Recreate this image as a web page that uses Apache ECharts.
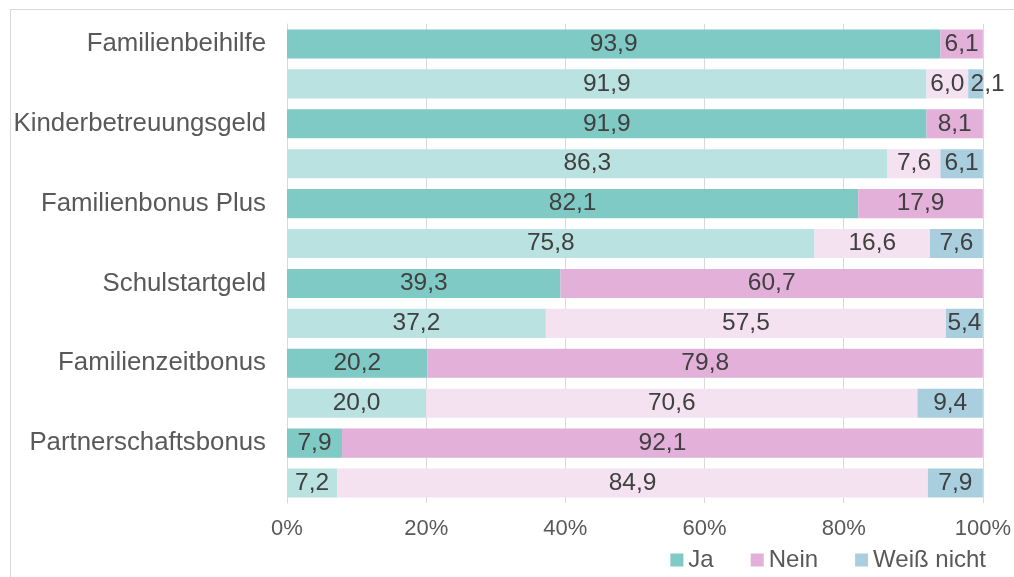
<!DOCTYPE html>
<html>
<head>
<meta charset="utf-8">
<script src="https://cdn.jsdelivr.net/npm/echarts@6/dist/echarts.min.js"></script>
<style>
html,body{margin:0;padding:0;background:#fff;}
#main{width:1014px;height:577px;}
</style>
</head>
<body>
<div id="main"></div>
<script>
// one label per pair of rows, second row of each pair has no label
var categories = ['Familienbeihilfe', '', 'Kinderbetreuungsgeld', '', 'Familienbonus Plus', '',
	'Schulstartgeld', '', 'Familienzeitbonus', '', 'Partnerschaftsbonus', ''];
var jaValues = [93.9, 91.9, 91.9, 86.3, 82.1, 75.8, 39.3, 37.2, 20.2, 20.0, 7.9, 7.2];
var neinValues = [6.1, 6.0, 8.1, 7.6, 17.9, 16.6, 60.7, 57.5, 79.8, 70.6, 92.1, 84.9];
var weissValues = [null, 2.1, null, 6.1, null, 7.6, null, 5.4, null, 9.4, null, 7.9];

var chart = echarts.init(document.getElementById('main'));

function rows(values, dark, light) {
	return values.map(function (v, i) {
		var item = {value: v == null ? '-' : v, itemStyle: {color: i % 2 === 0 ? dark : light}};
		// very thin segment: label pushed right like in the original
		if (v != null && v < 3) item.label = {offset: [12, 0]};
		return item;
	});
}
function fmt(p) {
	return (+p.value).toFixed(1).replace('.', ',');
}
var lbl = {show: true, position: 'inside', color: '#404040', fontSize: 24.5,
	fontFamily: 'Liberation Sans', formatter: fmt};

var option = {
	animation: false,
	textStyle: {fontFamily: 'Liberation Sans'},
	graphic: [{
		type: 'rect', silent: true,
		shape: {x: 10.5, y: 9.5, width: 1200, height: 800},
		style: {fill: 'none', stroke: '#d9d9d9', lineWidth: 1}
	}],
	grid: {left: 287, right: 30, top: 24, bottom: 74},
	legend: {
		data: ['Ja', 'Nein', 'Weiß nicht'],
		right: 23, top: 543,
		icon: 'rect', itemWidth: 13, itemHeight: 13, itemGap: 37,
		textStyle: {fontSize: 24, color: '#595959', fontFamily: 'Liberation Sans'}
	},
	xAxis: {
		type: 'value', min: 0, max: 100, interval: 20,
		axisLine: {show: false}, axisTick: {show: false},
		splitLine: {lineStyle: {color: '#d9d9d9', width: 1}},
		axisLabel: {formatter: '{value}%', fontSize: 22, color: '#595959', margin: 15,
			fontFamily: 'Liberation Sans'}
	},
	yAxis: {
		type: 'category', inverse: true, data: categories,
		axisLine: {lineStyle: {color: '#d9d9d9'}}, axisTick: {show: false},
		axisLabel: {fontSize: 25.8, color: '#595959', margin: 21, fontFamily: 'Liberation Sans'}
	},
	series: [
		{name: 'Ja', type: 'bar', stack: 'a', barCategoryGap: '27%', label: lbl,
			itemStyle: {color: '#7fcac4'}, data: rows(jaValues, '#7fcac4', '#b9e2e0')},
		{name: 'Nein', type: 'bar', stack: 'a', label: lbl,
			itemStyle: {color: '#e2b0d9'}, data: rows(neinValues, '#e2b0d9', '#f4e2f1')},
		{name: 'Weiß nicht', type: 'bar', stack: 'a', label: lbl,
			itemStyle: {color: '#a9cfdf'}, data: rows(weissValues, '#a9cfdf', '#a9cfdf')}
	]
};
chart.setOption(option);
</script>
</body>
</html>
